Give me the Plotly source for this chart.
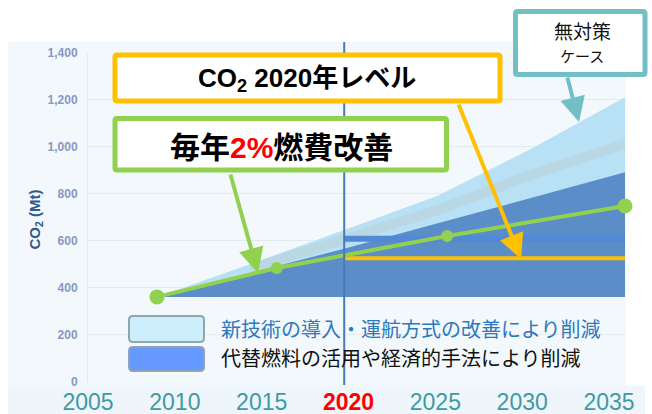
import plotly.graph_objects as go

W, H = 652, 414

# ---------------- data ----------------
area_years = [2010, 2015, 2020, 2025, 2030, 2035]
no_action_case = [360, 500, 645, 790, 990, 1210]
alt_fuel_top = [360, 462, 565, 673, 782, 890]
area_base = [360, 360, 360, 360, 360, 360]
band_years = [2015, 2020, 2025, 2030, 2035]
band_values = [480, 600, 730, 880, 1010]
level_years = [2020, 2035]
level_orange = [525, 525]
level_blue = [607, 607]
eff_years = [2010, 2016.4, 2025.5, 2035]
eff_values = [360, 483, 619, 747]
y_ticks = [0, 200, 400, 600, 800, 1000, 1200, 1400]
x_label_years = [2005, 2010, 2015, 2020, 2025, 2030, 2035]
x_label_text = ["2005", "2010", "2015", "<b><span style='color:#ff0000'>2020</span></b>", "2025", "2030", "2035"]
legend_labels = ["新技術の導入・運航方式の改善により削減", "代替燃料の活用や経済的手法により削減"]


def px(x):
    return x / W


def py(y):
    return 1 - y / H


FONT = "Liberation Sans, Noto Sans CJK JP, sans-serif"

fig = go.Figure()
hide = dict(showlegend=False, hoverinfo="skip")

fig.add_trace(go.Scatter(x=area_years, y=area_base, mode="lines", line=dict(width=0), **hide))
fig.add_trace(go.Scatter(x=area_years, y=no_action_case, mode="lines", line=dict(width=0),
                         fill="tonexty", fillcolor="#b8e1f5", **hide))
fig.add_trace(go.Scatter(x=band_years, y=band_values, mode="lines",
                         line=dict(width=10, color="rgba(186,214,226,0.9)"), **hide))
fig.add_trace(go.Scatter(x=area_years, y=area_base, mode="lines", line=dict(width=0), **hide))
fig.add_trace(go.Scatter(x=area_years, y=alt_fuel_top, mode="lines", line=dict(width=0),
                         fill="tonexty", fillcolor="#5b8dc8", **hide))
fig.add_trace(go.Scatter(x=level_years, y=level_blue, mode="lines",
                         line=dict(width=6, color="#5089d4"), **hide))
fig.add_trace(go.Scatter(x=level_years, y=level_orange, mode="lines",
                         line=dict(width=4, color="#ffc000"), **hide))
fig.add_trace(go.Scatter(x=eff_years, y=eff_values, mode="lines+markers",
                         line=dict(width=4, color="#92d050"),
                         marker=dict(size=[15, 12, 12, 15], color="#92d050", opacity=1,
                                     line=dict(width=0)),
                         cliponaxis=False, **hide))
# invisible trace carrying the bottom year labels axis
fig.add_trace(go.Scatter(x=x_label_years, y=[0] * len(x_label_years), xaxis="x2", yaxis="y",
                         mode="markers", marker=dict(opacity=0), **hide))

shapes = []
# chart background
shapes.append(dict(type="rect", xref="paper", yref="paper", x0=px(8), x1=px(626), y0=py(386), y1=py(42),
                   fillcolor="#f3f8fc", line=dict(width=0), layer="below"))
shapes.append(dict(type="rect", xref="paper", yref="paper", x0=px(8), x1=px(645), y0=py(414), y1=py(386),
                   fillcolor="#eef6fb", line=dict(width=0), layer="below"))
# 2020 vertical line
shapes.append(dict(type="line", xref="x", yref="paper", x0=2020, x1=2020, y0=py(385), y1=py(42),
                   line=dict(color="#4a78b8", width=2)))


def rrect(x0, y0, x1, y1, r, fill, color, width):
    path = (f"M{px(x0 + r)},{py(y0)} L{px(x1 - r)},{py(y0)} Q{px(x1)},{py(y0)} {px(x1)},{py(y0 + r)} "
            f"L{px(x1)},{py(y1 - r)} Q{px(x1)},{py(y1)} {px(x1 - r)},{py(y1)} "
            f"L{px(x0 + r)},{py(y1)} Q{px(x0)},{py(y1)} {px(x0)},{py(y1 - r)} "
            f"L{px(x0)},{py(y0 + r)} Q{px(x0)},{py(y0)} {px(x0 + r)},{py(y0)} Z")
    return dict(type="path", xref="paper", yref="paper", path=path, fillcolor=fill,
                line=dict(color=color, width=width))


# legend swatches
shapes.append(rrect(129, 316, 204, 342, 4, "#cdeefc", "#8fa7aa", 2))
shapes.append(rrect(129, 347, 204, 371, 4, "#6699ff", "#8fa3b5", 2))
# annotation boxes
shapes.append(rrect(115, 55, 500, 101, 2, "white", "#ffc000", 5))
shapes.append(rrect(115, 118.5, 446.5, 170, 2, "white", "#92d050", 5))
shapes.append(rrect(515.5, 11.5, 645, 74.5, 2, "white", "#72bfc6", 5))

ann = []


def label(text, x, y, size, color, xanchor="center", angle=0):
    return dict(text=text, xref="paper", yref="paper", x=px(x), y=py(y), xanchor=xanchor,
                yanchor="middle", textangle=angle, showarrow=False,
                font=dict(family=FONT, size=size, color=color))


# y-axis title
ann.append(label("<b>CO<sub>2</sub> (Mt)</b>", 34.5, 220, 15, "#2f5a8c", angle=-90))
# box texts
ann.append(label("<b>CO<sub>2</sub> 2020年レベル</b>", 307, 80, 26, "black"))
ann.append(label("<b>毎年<span style='color:#ff0000'>2%</span>燃費改善</b>", 281, 147, 30, "black"))
ann.append(label("無対策", 582, 32, 19, "#111"))
ann.append(label("ケース", 582, 57, 15, "#111"))
# legend texts
ann.append(label(legend_labels[0], 219, 329.5, 20, "#2b78be", xanchor="left"))
ann.append(label(legend_labels[1], 219, 359, 20, "#111", xanchor="left"))


def arrow(tail, tip, color):
    return dict(text="", xref="paper", yref="paper", x=px(tip[0]), y=py(tip[1]),
                ax=tail[0] - tip[0], ay=tail[1] - tip[1], showarrow=True,
                arrowhead=2, arrowsize=1.25, arrowwidth=4, arrowcolor=color)


ann.append(arrow((458, 103), (521, 259), "#ffc000"))
ann.append(arrow((230, 173), (258, 273), "#92d050"))
ann.append(arrow((567, 76), (579, 122), "#72bfc6"))

fig.update_layout(
    width=W, height=H, margin=dict(l=0, r=0, t=0, b=0, pad=0, autoexpand=False),
    paper_bgcolor="white", plot_bgcolor="rgba(0,0,0,0)",
    font=dict(family=FONT),
    showlegend=False,
    xaxis=dict(domain=[px(88), px(625)], range=[2006.314, 2035.0], showgrid=False, automargin=False,
               showticklabels=False, zeroline=False, showline=False, ticks=""),
    yaxis=dict(domain=[py(381.5), py(52.5)], range=[0, 1400], tickvals=y_ticks, automargin=False,
               tickformat=",d", showgrid=True, gridcolor="#e4eaf0", gridwidth=1,
               zeroline=False, showline=True, linecolor="#e4eaf0", ticks="", ticklabelstandoff=7,
               tickfont=dict(family="Liberation Sans", size=12, color="#8799c0", weight="bold")),
    xaxis2=dict(overlaying="x", range=[2005.0, 2035.92], anchor="free", position=py(386),
                automargin=False,
                tickvals=x_label_years, ticktext=x_label_text, showgrid=False, zeroline=False,
                showline=False, ticks="", ticklabelstandoff=0,
                tickfont=dict(family="Liberation Sans", size=23, color="#3f9aa3")),
    shapes=shapes,
    annotations=ann,
)

fig.write_html("out.html", config={"displayModeBar": False},
               post_script="document.body.style.margin='0px';")
